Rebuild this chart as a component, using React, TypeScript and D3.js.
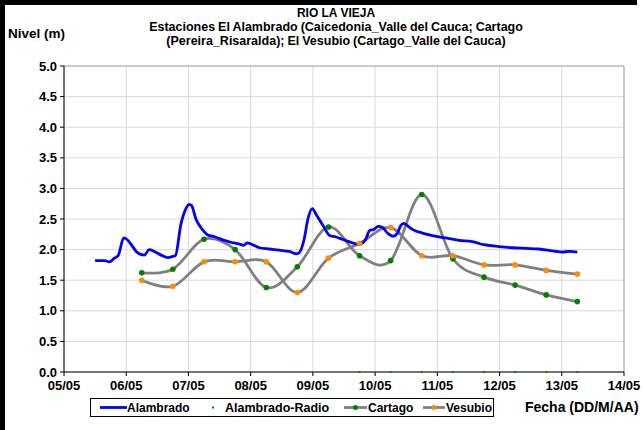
import React from 'react';
import * as d3 from 'd3';

const alambradoDays = [5.5, 5.65, 5.73, 5.81, 5.87, 5.96, 6.03, 6.11, 6.17, 6.29, 6.37, 6.45, 6.56, 6.67, 6.75, 6.79, 6.88, 6.96, 7.01, 7.05, 7.12, 7.2, 7.31, 7.42, 7.55, 7.68, 7.82, 7.89, 7.94, 8.03, 8.14, 8.3, 8.46, 8.62, 8.73, 8.77, 8.86, 8.92, 8.99, 9.06, 9.17, 9.27, 9.36, 9.47, 9.58, 9.71, 9.8, 9.85, 9.91, 9.98, 10.05, 10.12, 10.2, 10.29, 10.36, 10.41, 10.46, 10.52, 10.6, 10.76, 10.92, 11.13, 11.35, 11.56, 11.75, 11.99, 12.21, 12.42, 12.63, 12.85, 13.01, 13.12, 13.25];
const alambradoLevels = [1.82, 1.82, 1.8, 1.86, 1.9, 2.19, 2.15, 2.04, 1.96, 1.91, 2.0, 1.97, 1.91, 1.87, 1.89, 1.9, 2.42, 2.67, 2.74, 2.72, 2.5, 2.36, 2.24, 2.21, 2.16, 2.12, 2.09, 2.07, 2.11, 2.08, 2.03, 2.01, 1.99, 1.97, 1.93, 1.94, 2.17, 2.5, 2.67, 2.56, 2.38, 2.23, 2.21, 2.17, 2.13, 2.09, 2.11, 2.17, 2.31, 2.33, 2.38, 2.36, 2.27, 2.22, 2.27, 2.39, 2.43, 2.39, 2.33, 2.27, 2.23, 2.19, 2.15, 2.13, 2.08, 2.05, 2.03, 2.02, 2.01, 1.98, 1.96, 1.97, 1.96];

const stationDays = [6.25, 6.75, 7.25, 7.75, 8.25, 8.75, 9.25, 9.75, 10.25, 10.75, 11.25, 11.75, 12.25, 12.75, 13.25];
const cartagoLevels = [1.62, 1.68, 2.17, 2.0, 1.38, 1.72, 2.37, 1.9, 1.82, 2.9, 1.85, 1.55, 1.42, 1.26, 1.15];
const vesubioLevels = [1.5, 1.4, 1.8, 1.8, 1.8, 1.3, 1.86, 2.1, 2.36, 1.9, 1.9, 1.75, 1.75, 1.66, 1.6];

const radioDays = [9.75, 10.25, 10.75, 11.25, 11.75, 12.25, 12.75, 13.25];
const radioLevels = [0, 0, 0, 0, 0, 0, 0, 0];

const xTickDays = [5, 6, 7, 8, 9, 10, 11, 12, 13, 14];
const xTickLabels = ['05/05', '06/05', '07/05', '08/05', '09/05', '10/05', '11/05', '12/05', '13/05', '14/05'];
const yTickValues = [0, 0.5, 1, 1.5, 2, 2.5, 3, 3.5, 4, 4.5, 5];

const titleMain = 'RIO LA VIEJA';
const subtitleLines = [
  'Estaciones El Alambrado (Caicedonia_Valle del Cauca; Cartago',
  '(Pereira_Risaralda);  El Vesubio (Cartago_Valle del Cauca)',
];

const FONT = '"Liberation Sans", Arial, sans-serif';
const BLUE = '#0000ff';
const GRAY = '#808080';
const GREEN = '#008000';
const ORANGE = '#ff8c00';

export default function App() {
  const W = 643, H = 430;
  const left = 64, right = 624, top = 66, bottom = 372;
  const x = d3.scaleLinear().domain([5, 14]).range([left, right]);
  const y = d3.scaleLinear().domain([0, 5]).range([bottom, top]);

  const blueLine = d3.line<number>()
    .x((_, i) => x(alambradoDays[i]))
    .y((d) => y(d))
    .curve(d3.curveMonotoneX)(alambradoLevels) || '';
  const smooth = d3.line<number>()
    .x((_, i) => x(stationDays[i]))
    .y((d) => y(d))
    .curve(d3.curveCatmullRom.alpha(0));
  const cartagoPath = smooth(cartagoLevels) || '';
  const vesubioPath = smooth(vesubioLevels) || '';

  const txt = { fontFamily: FONT, fontWeight: 700 as const, fill: '#000' };

  return (
    <svg width={W} height={H} style={{ position: 'absolute', left: 0, top: 0, background: '#fff' }}>
      <rect x={0} y={0} width={W} height={H} fill="#fff" />
      {/* outer frame */}
      <line x1={0} y1={2.5} x2={637} y2={2.5} stroke="#000" strokeWidth={5} />
      <line x1={2.5} y1={0} x2={2.5} y2={H} stroke="#000" strokeWidth={5} />

      {/* titles */}
      <text x={336} y={16.5} textAnchor="middle" fontSize={12} style={txt}>{titleMain}</text>
      {subtitleLines.map((t, i) => (
        <text key={i} x={336} y={30.5 + i * 14.2} textAnchor="middle" fontSize={12.5} wordSpacing={-0.5} style={txt}>{t}</text>
      ))}
      <text x={8} y={38} fontSize={13.5} style={txt}>Nivel (m)</text>

      {/* grid */}
      {yTickValues.map((v) => (
        <line key={'gy' + v} x1={left} x2={right} y1={y(v)} y2={y(v)} stroke="#d9d9d9" strokeWidth={1} />
      ))}
      {xTickDays.map((d) => (
        <line key={'gx' + d} x1={x(d)} x2={x(d)} y1={top} y2={bottom} stroke="#d9d9d9" strokeWidth={1} />
      ))}
      <line x1={left} x2={right} y1={top} y2={top} stroke="#a6a6a6" strokeWidth={1} />
      <line x1={right} x2={right} y1={top} y2={bottom} stroke="#a6a6a6" strokeWidth={1} />

      {/* axes */}
      <line x1={left} x2={left} y1={top} y2={bottom} stroke="#000" strokeWidth={1} />
      <line x1={left} x2={right} y1={bottom} y2={bottom} stroke="#000" strokeWidth={1} />
      {yTickValues.map((v) => (
        <g key={'ty' + v}>
          <line x1={left - 4} x2={left} y1={y(v)} y2={y(v)} stroke="#000" />
          <text x={left - 7} y={y(v) + 4.5} textAnchor="end" fontSize={13} style={txt}>{v.toFixed(1)}</text>
        </g>
      ))}
      {xTickDays.map((d, i) => (
        <g key={'tx' + d}>
          <line x1={x(d)} x2={x(d)} y1={bottom} y2={bottom + 4} stroke="#000" />
          <text x={x(d)} y={bottom + 18} textAnchor="middle" fontSize={13} style={txt}>{xTickLabels[i]}</text>
        </g>
      ))}

      {/* series */}
      <path d={vesubioPath} fill="none" stroke={GRAY} strokeWidth={2.8} />
      <path d={cartagoPath} fill="none" stroke={GRAY} strokeWidth={2.8} />
      <path d={blueLine} fill="none" stroke={BLUE} strokeWidth={2.8} />
      {stationDays.map((d, i) => (
        <circle key={'c' + i} cx={x(d)} cy={y(cartagoLevels[i])} r={2.8} fill={GREEN} />
      ))}
      {stationDays.map((d, i) => (
        <circle key={'v' + i} cx={x(d)} cy={y(vesubioLevels[i])} r={2.8} fill={ORANGE} />
      ))}
      {radioDays.map((d, i) => (
        <rect key={'r' + i} x={x(d) - 1} y={y(radioLevels[i]) - 1} width={2} height={2} fill={GREEN} />
      ))}

      {/* legend */}
      <rect x={90.5} y={398.5} width={403} height={18} fill="#fff" stroke="#000" strokeWidth={1} />
      <line x1={100} x2={127} y1={407.5} y2={407.5} stroke={BLUE} strokeWidth={2.8} />
      <text x={127} y={412} fontSize={12} style={txt}>Alambrado</text>
      <rect x={212} y={406.5} width={2} height={2} fill={GREEN} />
      <text x={225} y={412} fontSize={12.5} style={txt}>Alambrado-Radio</text>
      <line x1={344} x2={367} y1={407.5} y2={407.5} stroke={GRAY} strokeWidth={2.8} />
      <circle cx={355.5} cy={407.5} r={2.5} fill={GREEN} />
      <text x={368} y={412} fontSize={12} style={txt}>Cartago</text>
      <line x1={423} x2={445} y1={407.5} y2={407.5} stroke={GRAY} strokeWidth={2.8} />
      <circle cx={434} cy={407.5} r={2.5} fill={ORANGE} />
      <text x={446} y={412} fontSize={12} style={txt}>Vesubio</text>
      <text x={525} y={412} fontSize={14} style={txt}>Fecha (DD/M/AA)</text>
    </svg>
  );
}
